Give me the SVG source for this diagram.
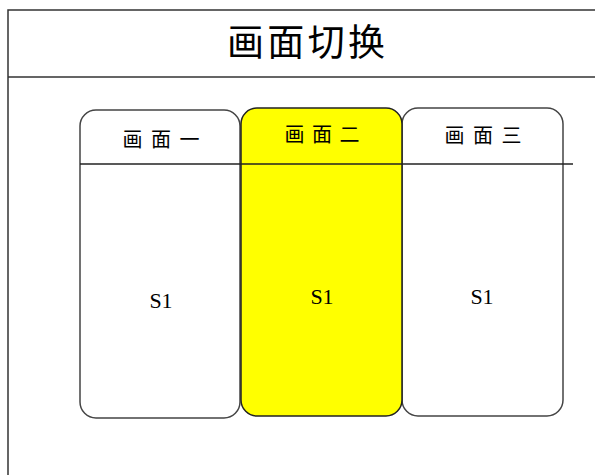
<svg xmlns="http://www.w3.org/2000/svg" width="595" height="475" viewBox="0 0 595 475">
<style>
.frame{fill:none;stroke:#333;stroke-width:1.5}
.box{fill:#fff;stroke:#444;stroke-width:1.5}
.hl{fill:#ffff00;stroke:#222;stroke-width:1.5}
.cjk{font-family:"Noto Sans CJK SC","Noto Sans",sans-serif;fill:#000;text-anchor:middle}
.lbl{font-family:"Liberation Serif",serif;font-size:22px;fill:#000;text-anchor:middle}
</style>
<rect width="595" height="475" fill="#fff"/>
<g id="frame">
<path class="frame" d="M8,475 V10 H595 M8,77 H595"/>
<text class="cjk" x="306" y="56" font-size="37" textLength="158" lengthAdjust="spacing">画面切换</text>
</g>
<g id="tab1">
<rect class="box" x="80" y="110" width="160" height="308" rx="16" ry="16"/>
<text class="cjk" x="161" y="147" font-size="20" textLength="77" lengthAdjust="spacing">画面一</text>
<text class="lbl" x="161" y="308">S1</text>
</g>
<g id="tab3">
<rect class="box" x="402" y="108" width="161" height="308" rx="16" ry="16"/>
<text class="cjk" x="483" y="143" font-size="20" textLength="77" lengthAdjust="spacing">画面三</text>
<text class="lbl" x="482" y="304">S1</text>
</g>
<g id="tab2">
<rect class="hl" x="241" y="108" width="161" height="308" rx="16" ry="16"/>
<text class="cjk" x="322" y="142" font-size="20" textLength="75" lengthAdjust="spacing">画面二</text>
<text class="lbl" x="322" y="304">S1</text>
</g>
<g id="connectors">
<line x1="80" y1="164" x2="573" y2="164" stroke="#222" stroke-width="1.5"/>
</g>
</svg>
